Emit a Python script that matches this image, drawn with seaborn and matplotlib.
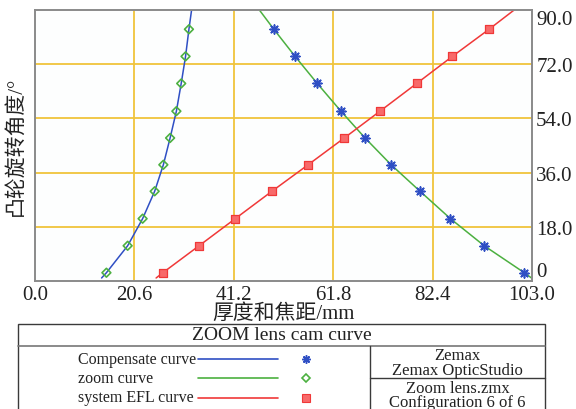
import numpy as np
import pandas as pd
import matplotlib
matplotlib.use("Agg")
import matplotlib.pyplot as plt
from matplotlib.lines import Line2D
from matplotlib.patches import Rectangle
import seaborn as sns

# ---------------- data ----------------
angle_markers = [2.75, 11.7, 20.7, 29.8, 38.6, 47.5, 56.4, 65.6, 74.6, 83.6]
angle_ends = [1.0, 90.0]

compensate_x = [14.8, 19.2, 22.3, 24.8, 26.6, 28.0, 29.3, 30.3, 31.2, 31.9]
compensate_ends = [13.8, 32.45]

zoom_x = [101.4, 93.1, 86.1, 79.8, 73.8, 68.4, 63.4, 58.5, 53.9, 49.5]
zoom_ends = [102.9, 46.5]

efl_x = [26.5, 34.0, 41.5, 49.1, 56.6, 64.1, 71.5, 79.1, 86.5, 94.1]
efl_ends = [25.1, 99.3]

x_ticks = [0.0, 20.6, 41.2, 61.8, 82.4, 103.0]
x_ticklabels = ["0.0", "20.6", "41.2", "61.8", "82.4", "103.0"]
y_ticks = [0, 18, 36, 54, 72, 90]
y_ticklabels = ["0", "18.0", "36.0", "54.0", "72.0", "90.0"]

series_names = ["Compensate curve", "zoom curve", "system EFL curve"]
title_text = "ZOOM lens cam curve"
info_top = ["Zemax", "Zemax OpticStudio"]
info_bottom = ["Zoom lens.zmx", "Configuration 6 of 6"]
xlabel = "厚度和焦距/mm"
ylabel = "凸轮旋转角度/°"

# ---------------- styling ----------------
sns.set_theme(style="white")
plt.rcParams["font.family"] = ["Liberation Serif", "Noto Sans CJK SC", "DejaVu Sans"]

c_blue = "#2f4fc4"
c_green = "#4cb040"
c_red = "#f03838"
c_grid = "#f0c43c"
c_frame = "#8a8a8a"
c_text = "#222222"

def line_frame(xs, ends):
    x = [ends[0]] + list(xs) + [ends[1]]
    y = [angle_ends[0]] + list(angle_markers) + [angle_ends[1]]
    return pd.DataFrame({"x": x, "y": y})

fig = plt.figure(figsize=(5.76, 4.10), dpi=100)
ax = fig.add_axes([35 / 576, 1 - 282 / 410, (532 - 35) / 576, (282 - 11) / 410])
ax.set_facecolor("#fdfefe")

ax.set_xlim(0, 103.0)
ax.set_ylim(0, 90)

# grid
for xv in x_ticks[1:-1]:
    ax.axvline(xv, color=c_grid, lw=1.3, zorder=0)
for yv in y_ticks[1:-1]:
    ax.axhline(yv, color=c_grid, lw=1.3, zorder=0)

# curves
sns.lineplot(data=line_frame(compensate_x, compensate_ends), x="x", y="y",
             sort=False, estimator=None, color=c_blue, lw=1.1, ax=ax)
sns.lineplot(data=line_frame(zoom_x, zoom_ends), x="x", y="y",
             sort=False, estimator=None, color=c_green, lw=1.1, ax=ax)
sns.lineplot(data=line_frame(efl_x, efl_ends), x="x", y="y",
             sort=False, estimator=None, color=c_red, lw=1.1, ax=ax)

# markers (as in the original: diamonds on blue curve, asterisks on green)
sns.scatterplot(x=compensate_x, y=angle_markers, marker="D", s=20,
                facecolor="none", edgecolor=c_green, linewidth=1.2, ax=ax, zorder=5)
sns.scatterplot(x=zoom_x, y=angle_markers, marker=(8, 2, 0), s=40,
                color=c_blue, edgecolor=c_blue, linewidth=1.2, ax=ax, zorder=5)
sns.scatterplot(x=efl_x, y=angle_markers, marker="s", s=28,
                color="#f86a6a", edgecolor=c_red, linewidth=0.9, ax=ax, zorder=5)

# axes / ticks
ax.set_xticks(x_ticks)
ax.set_xticklabels(x_ticklabels, fontsize=15)
ax.yaxis.tick_right()
ax.set_yticks(y_ticks)
ax.set_yticklabels(y_ticklabels, fontsize=15)
for lab, yv in zip(ax.get_yticklabels(), y_ticks):
    if yv == 90:
        lab.set_va("top")
    elif yv == 0:
        lab.set_va("bottom")
ax.tick_params(axis="both", length=0, pad=3, colors=c_text)
for sp in ax.spines.values():
    sp.set_color(c_frame)
    sp.set_linewidth(1.4)

ax.set_xlabel(xlabel, fontsize=15, labelpad=-1, color=c_text)
ax.yaxis.set_label_position("left")
ax.set_ylabel(ylabel, fontsize=15, labelpad=7, color=c_text)

# ---------------- legend table ----------------
ec = "#3a3a3a"
L, R, T = 18 / 576, 545 / 576, 1 - 325 / 410
fig.add_artist(Rectangle((L, -0.02), R - L, T + 0.02, transform=fig.transFigure,
                         fill=False, edgecolor=ec, lw=1.0))
ysep = 1 - 346.5 / 410
fig.add_artist(Line2D([L, R], [ysep, ysep], transform=fig.transFigure, color="#777777", lw=1.2))
xdiv = 370 / 576
fig.add_artist(Line2D([xdiv, xdiv], [-0.02, ysep], transform=fig.transFigure, color=ec, lw=1.0))
ydiv = 1 - 379 / 410
fig.add_artist(Line2D([xdiv, R], [ydiv, ydiv], transform=fig.transFigure, color=ec, lw=1.0))

fig.text((L + R) / 2, 1 - 336 / 410, title_text, ha="center", va="center",
         fontsize=14, color=c_text)

rows_y = [1 - 360 / 410, 1 - 379 / 410, 1 - 398.5 / 410]
line_colors = [c_blue, c_green, c_red]
for name, yy, col in zip(series_names, rows_y, line_colors):
    fig.text(78 / 576, yy, name, ha="left", va="center", fontsize=11.5, color=c_text)
    fig.add_artist(Line2D([198 / 576, 278 / 576], [yy, yy], transform=fig.transFigure,
                          color=col, lw=1.2))
mx = 306 / 576
fig.add_artist(Line2D([mx], [rows_y[0]], transform=fig.transFigure, marker=(8, 2, 0),
                      markersize=6, color=c_blue, mew=1.1, lw=0))
fig.add_artist(Line2D([mx], [rows_y[1]], transform=fig.transFigure, marker="D",
                      markersize=4.5, markerfacecolor="none", markeredgecolor=c_green, mew=1.2, lw=0))
fig.add_artist(Line2D([mx], [rows_y[2]], transform=fig.transFigure, marker="s",
                      markersize=5.5, markerfacecolor="#f86a6a", markeredgecolor=c_red, mew=0.8, lw=0))

cx = (xdiv + R) / 2
fig.text(cx, 1 - 356 / 410, info_top[0], ha="center", va="center", fontsize=12, color=c_text)
fig.text(cx, 1 - 371 / 410, info_top[1], ha="center", va="center", fontsize=12, color=c_text)
fig.text(cx, 1 - 389 / 410, info_bottom[0], ha="center", va="center", fontsize=12, color=c_text)
fig.text(cx, 1 - 403.5 / 410, info_bottom[1], ha="center", va="center", fontsize=12, color=c_text)

fig.savefig("out.png", dpi=100, facecolor="white")
